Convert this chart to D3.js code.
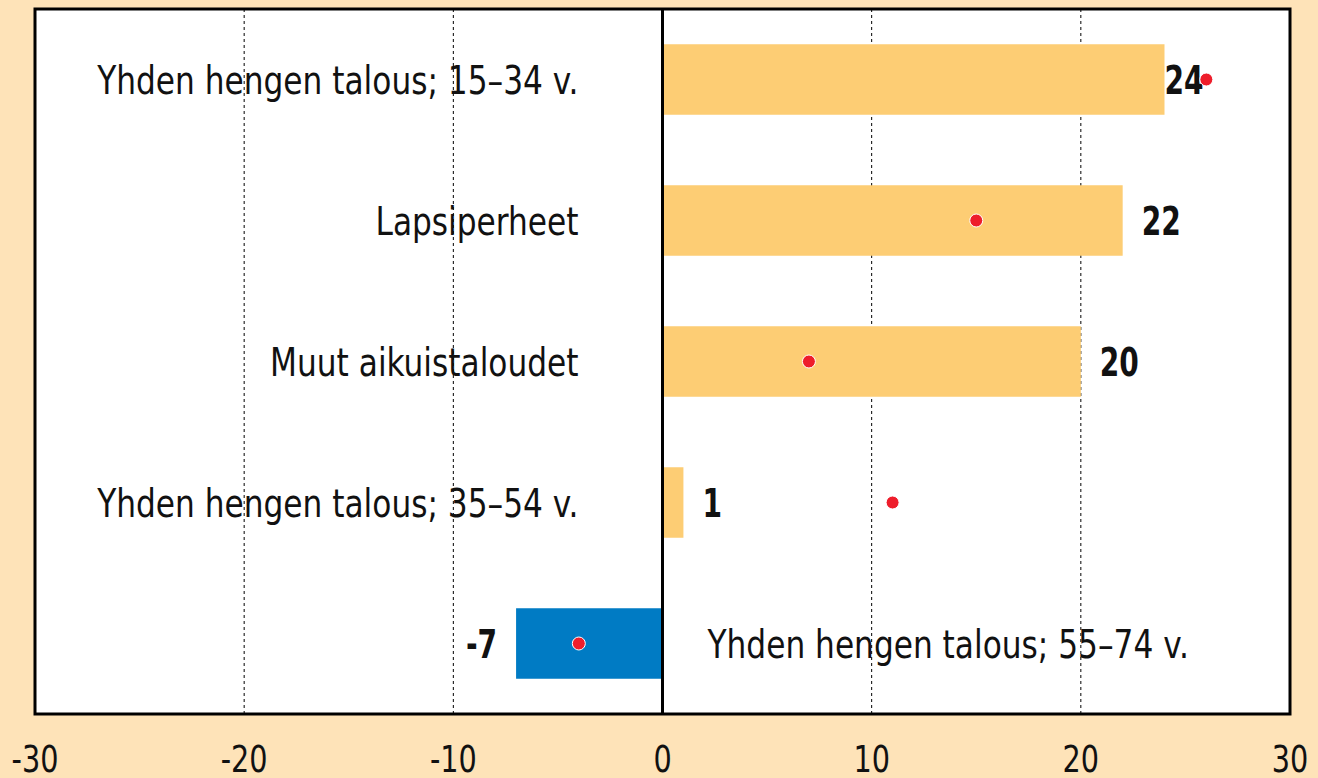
<!DOCTYPE html>
<html>
<head>
<meta charset="utf-8">
<script src="https://cdn.jsdelivr.net/npm/d3@7"></script>
<style>
  body { margin: 0; background: #fee3b8; }
  svg { display: block; }
  text { font-family: "Liberation Sans Narrow", "DejaVu Sans Condensed", sans-serif; fill: #111; }
</style>
</head>
<body>
<script>
var categories = ['Yhden hengen talous; 15–34 v.', 'Lapsiperheet', 'Muut aikuistaloudet', 'Yhden hengen talous; 35–54 v.', 'Yhden hengen talous; 55–74 v.']
var values = [24, 22, 20, 1, -7]       // bars
var dots = [26, 15, 7, 11, -4]         // red markers
var tickValues = [-30, -20, -10, 0, 10, 20, 30]

var width = 1318
var height = 778
var margin = {left: 35, right: 28, top: 9, bottom: 64}
var squeeze = 0.89      // fake a condensed face
var squeezeBold = 0.8

var x = d3.scaleLinear()
  .domain([-30, 30])
  .range([margin.left, width - margin.right])

var y = d3.scaleBand()
  .domain(categories)
  .range([margin.top, height - margin.bottom])
  .paddingInner(0.5)
  .paddingOuter(0.25)

var svg = d3.select('body').append('svg').attr('width', width).attr('height', height)

// plot area
svg.append('rect')
  .attr('x', x(-30)).attr('y', margin.top)
  .attr('width', x(30) - x(-30)).attr('height', height - margin.bottom - margin.top)
  .attr('fill', '#fff')

// dashed grid
svg.append('g').selectAll('line')
  .data(tickValues.filter(d => d !== 0 && Math.abs(d) !== 30))
  .join('line')
  .attr('x1', d => x(d)).attr('x2', d => x(d))
  .attr('y1', margin.top).attr('y2', height - margin.bottom)
  .attr('stroke', '#000').attr('stroke-width', 1).attr('stroke-dasharray', '3,3')

// bars
svg.append('g').selectAll('rect')
  .data(values)
  .join('rect')
  .attr('x', d => x(Math.min(0, d)))
  .attr('y', (d, i) => y(categories[i]))
  .attr('width', d => Math.abs(x(d) - x(0)))
  .attr('height', y.bandwidth())
  .attr('fill', d => d < 0 ? '#007bc4' : '#fdcd74')

// zero line
svg.append('line')
  .attr('x1', x(0)).attr('x2', x(0))
  .attr('y1', margin.top).attr('y2', height - margin.bottom)
  .attr('stroke', '#000').attr('stroke-width', 3)

// border
svg.append('rect')
  .attr('x', x(-30)).attr('y', margin.top)
  .attr('width', x(30) - x(-30)).attr('height', height - margin.bottom - margin.top)
  .attr('fill', 'none').attr('stroke', '#000').attr('stroke-width', 3)

// category labels
svg.append('g').selectAll('text')
  .data(categories)
  .join('text')
  .attr('transform', (d, i) => {
    var tx = values[i] < 0 ? x(0) + 45 : x(0) - 84
    return `translate(${tx},${y(d) + y.bandwidth() / 2}) scale(${squeeze},1)`
  })
  .attr('dy', '0.37em')
  .attr('text-anchor', (d, i) => values[i] < 0 ? 'start' : 'end')
  .attr('font-size', 39)
  .text(d => d)

// value labels (tucked in when the marker sits right at the bar end)
svg.append('g').selectAll('text')
  .data(values)
  .join('text')
  .attr('transform', (d, i) => {
    var gap = (dots[i] - d > 0 && dots[i] - d < 3) ? 0 : 19
    var tx = d < 0 ? x(d) - gap : x(d) + gap
    return `translate(${tx},${y(categories[i]) + y.bandwidth() / 2}) scale(${squeezeBold},1)`
  })
  .attr('dy', '0.37em')
  .attr('text-anchor', d => d < 0 ? 'end' : 'start')
  .attr('font-size', 39)
  .attr('font-weight', 'bold')
  .text(d => d)

// red markers
svg.append('g').selectAll('circle')
  .data(dots)
  .join('circle')
  .attr('cx', d => x(d))
  .attr('cy', (d, i) => y(categories[i]) + y.bandwidth() / 2)
  .attr('r', 6.5)
  .attr('fill', '#ee1d2b')
  .attr('stroke', '#fff').attr('stroke-width', 1)

// x axis labels
svg.append('g').selectAll('text')
  .data(tickValues)
  .join('text')
  .attr('transform', d => `translate(${x(d)},772) scale(0.84,1)`)
  .attr('text-anchor', 'middle')
  .attr('font-size', 38)
  .text(d => d)
</script>
</body>
</html>
